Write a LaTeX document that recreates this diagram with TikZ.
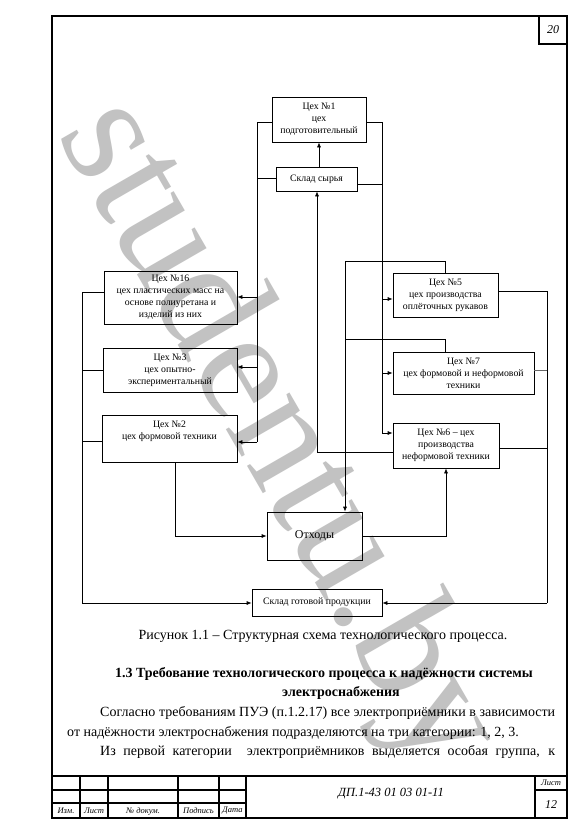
\documentclass[tikz,border=0pt]{standalone}
\usepackage{fontspec}
\setmainfont{Liberation Serif}
\usetikzlibrary{arrows.meta}
\begin{document}
\begin{tikzpicture}[x=1pt,y=-1pt,
  box/.style={draw, line width=0.7pt, inner sep=1pt, align=center, font=\fontsize{9.8}{12}\selectfont},
  ln/.style={line width=0.7pt},
  arr/.style={line width=0.7pt, -{Latex[length=5pt,width=4pt]}},
  frame/.style={line width=1.6pt},
  grid/.style={line width=1.1pt},
  body/.style={inner sep=0pt, font=\fontsize{14}{16}\selectfont},
  tb/.style={inner sep=0pt, font=\fontsize{8.5}{10}\selectfont\itshape}]
\useasboundingbox (0,0) rectangle (578,828);
\fill[white] (0,0) rectangle (578,828);
% watermark
\node[rotate=-60, anchor=base west, text=black!24, inner sep=0pt, font=\fontsize{160}{160}\selectfont] (wm) at (56,134) {studentu.by};
% frame
\draw[frame] (52,16) rectangle (567,818);
\draw[grid] (539,16) |- (567,44);
\node[inner sep=0pt, font=\fontsize{12}{14}\selectfont\itshape] (pg) at (553,30) {20};
% boxes
\node[box, minimum width=94pt, minimum height=45pt] (c1) at (319,119.5) {Цех №1\\цех\\подготовительный};
\node[box, minimum width=81pt, minimum height=24pt] (sk) at (316.5,179) {Склад сырья};
\node[box, minimum width=133pt, minimum height=53pt] (c16) at (170.5,297.5) {Цех №16\\цех пластических масс на\\основе полиуретана и\\изделий из них};
\node[box, minimum width=134pt, minimum height=44pt] (c3) at (170,370) {Цех №3\\цех опытно-\\экспериментальный};
\node[box, minimum width=135pt, minimum height=47pt] (c2) at (169.5,438.5) {Цех №2\\цех формовой техники\\[4pt]};
\node[box, minimum width=105pt, minimum height=44pt] (c5) at (445.5,295) {Цех №5\\цех производства\\оплёточных рукавов};
\node[box, minimum width=141pt, minimum height=42pt] (c7) at (463.5,373) {Цех №7\\цех формовой и неформовой\\техники};
\node[box, minimum width=106pt, minimum height=45pt] (c6) at (446,445.5) {Цех №6 – цех\\производства\\неформовой техники};
\node[box, minimum width=95pt, minimum height=48pt, font=\fontsize{12}{14}\selectfont] (ot) at (314.5,536) {Отходы};
\node[box, minimum width=130pt, minimum height=27pt] (sg) at (317,602.5) {Склад готовой продукции};
% bus coordinates
\coordinate (L1) at (257,122);
\coordinate (L2) at (257,442);
\coordinate (R1) at (382,122);
\coordinate (R2) at (382,433);
\coordinate (B) at (317,452);
\coordinate (M) at (345,261);
\coordinate (M2) at (345,339);
\coordinate (RR) at (547,291);
\coordinate (RB) at (547,603);
\coordinate (LL) at (82,292);
\coordinate (LB) at (82,603);
% connectors
\draw[arr] (sk.north -| c1.south) -- (c1.south);
\draw[ln] (c1.west |- L1) -- (L1) -- (L2);
\draw[ln] (sk.west |- 0,178) -- (L1 |- 0,178);
\draw[arr] (L1 |- 0,297) -- (c16.east |- 0,297);
\draw[arr] (L1 |- 0,367) -- (c3.east |- 0,367);
\draw[arr] (L2) -- (c2.east |- L2);
\draw[ln] (c1.east |- R1) -- (R1) -- (R2);
\draw[ln] (sk.east |- 0,184) -- (R1 |- 0,184);
\draw[arr] (R1 |- 0,299) -- (c5.west |- 0,299);
\draw[arr] (R1 |- 0,373) -- (c7.west |- 0,373);
\draw[arr] (R2) -- (c6.west |- R2);
\draw[arr] (c6.west |- B) -- (B) -- (B |- sk.south);
\draw[arr] (c5.north) |- (M) -- (M |- ot.north);
\draw[ln] (c7.north -| c5.north) |- (M2);
\draw[arr] (c2.south -| 175,0) |- (ot.west);
\draw[arr] (ot.east) -| (c6.south);
\draw[ln] (c5.east |- RR) -- (RR) -- (RB);
\draw[ln, black!60] (c7.east |- 0,370) -- (RR |- 0,370);
\draw[ln] (c6.east |- 0,448) -- (RR |- 0,448);
\draw[arr] (RB) -- (sg.east |- RB);
\draw[ln] (c16.west |- LL) -- (LL) -- (LB);
\draw[ln] (c3.west |- 0,370) -- (LL |- 0,370);
\draw[ln] (c2.west |- 0,441) -- (LL |- 0,441);
\draw[arr] (LB) -- (sg.west |- LB);
% text
\node[body, anchor=base] (cap) at (323,639) {Рисунок 1.1 – Структурная схема технологического процесса.};
\node[body, anchor=base, font=\fontsize{14}{16}\selectfont\bfseries] (h1) at (324,677) {1.3 Требование технологического процесса к надёжности системы};
\node[body, anchor=base, font=\fontsize{14}{16}\selectfont\bfseries] (h2) at (341,696) {электроснабжения};
\node[body, anchor=base west] (p1) at (100,716) {\makebox[455pt][s]{Согласно требованиям ПУЭ (п.1.2.17) все электроприёмники в зависимости}};
\node[body, anchor=base west] (p2) at (67,736) {от надёжности электроснабжения подразделяются на три категории: 1, 2, 3.};
\node[body, anchor=base west] (p3) at (100,755) {\makebox[455pt][s]{Из первой категории \ электроприёмников выделяется особая группа, к}};
% title block
\draw[frame] (52,776) -- (567,776);
\foreach \xx in {80,108,178,219,246,535} {\draw[grid] (\xx,776) -- (\xx,818);}
\draw[grid] (52,790) -- (246,790);
\draw[grid] (52,803) -- (246,803);
\draw[grid] (535,790) -- (567,790);
\node[tb] (t1) at (66,811) {Изм.};
\node[tb] (t2) at (94,811) {Лист};
\node[tb] (t3) at (143,811) {№ докум.};
\node[tb] (t4) at (198.5,811) {Подпись};
\node[tb] (t5) at (232.5,811) {Дата};
\node[inner sep=0pt, font=\fontsize{12.5}{14}\selectfont\itshape] (doc) at (391,794) {ДП.1-43 01 03 01-11};
\node[tb] (t6) at (551,783) {Лист};
\node[inner sep=0pt, font=\fontsize{12}{14}\selectfont\itshape] (sh) at (551,805) {12};
\end{tikzpicture}
\end{document}
